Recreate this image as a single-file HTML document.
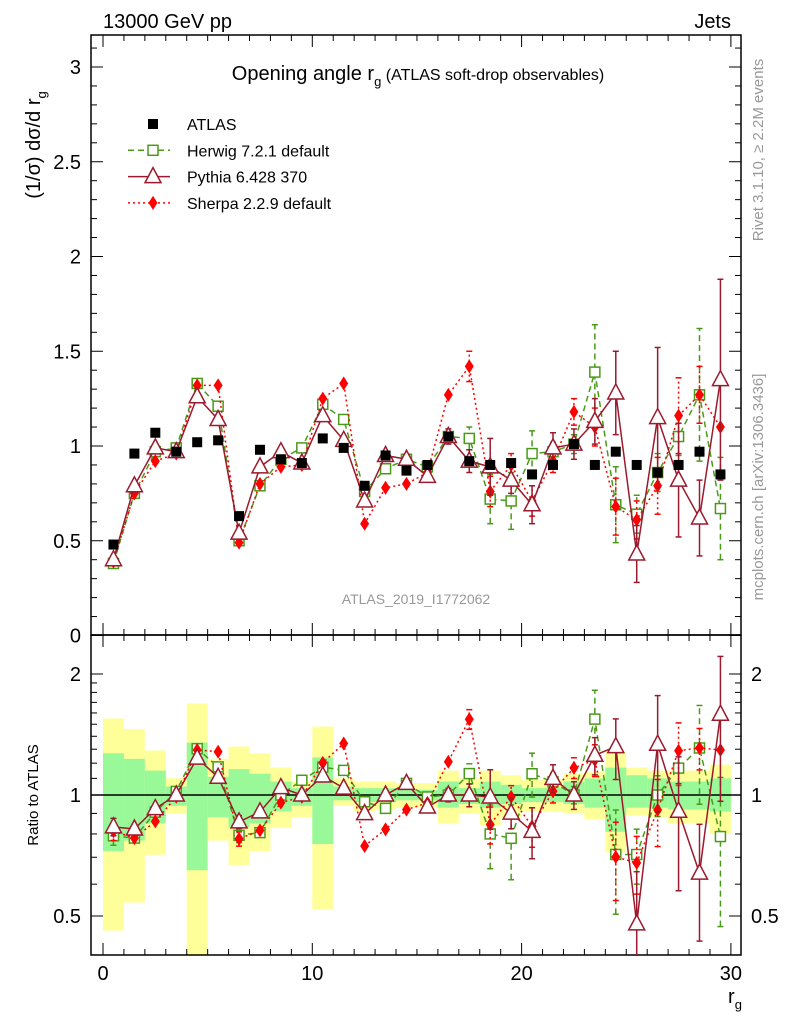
<!DOCTYPE html>
<html><head><meta charset="utf-8"><style>
body{margin:0;background:#fff}
svg{display:block;font-family:"Liberation Sans",sans-serif}
</style></head><body>
<svg id="c" width="786" height="1024" xmlns="http://www.w3.org/2000/svg">
<text x="103" y="28" font-size="20">13000 GeV pp</text>
<text x="731" y="28" font-size="20" text-anchor="end">Jets</text>
<text transform="translate(40,145) rotate(-90)" font-size="20" text-anchor="middle">(1/σ) dσ/d r<tspan font-size="13" dy="6">g</tspan></text>
<text transform="translate(38,795) rotate(-90)" font-size="15" text-anchor="middle">Ratio to ATLAS</text>
<text transform="translate(763,150) rotate(-90)" font-size="15" fill="#999" text-anchor="middle">Rivet 3.1.10, ≥ 2.2M events</text>
<text transform="translate(763,487) rotate(-90)" font-size="15" fill="#999" text-anchor="middle">mcplots.cern.ch [arXiv:1306.3436]</text>
<text x="418" y="80" font-size="20" text-anchor="middle">Opening angle r<tspan font-size="13" dy="6">g</tspan><tspan font-size="16" dy="-6"> (ATLAS soft-drop observables)</tspan></text>
<text x="416" y="604" font-size="14" fill="#999" text-anchor="middle">ATLAS_2019_I1772062</text>
<text x="735" y="1003" font-size="20" text-anchor="middle">r<tspan font-size="13" dy="6">g</tspan></text>
<g id="g"></g>
</svg>
<script>
const bins=[0.5,1.5,2.5,3.5,4.5,5.5,6.5,7.5,8.5,9.5,10.5,11.5,12.5,13.5,14.5,15.5,16.5,17.5,18.5,19.5,20.5,21.5,22.5,23.5,24.5,25.5,26.5,27.5,28.5,29.5];
const atlas=[0.48,0.96,1.07,0.97,1.02,1.03,0.63,0.98,0.93,0.91,1.04,0.99,0.79,0.95,0.87,0.90,1.05,0.92,0.90,0.91,0.85,0.90,1.01,0.90,0.97,0.90,0.86,0.90,0.97,0.85];
const herwig=[0.38,0.75,0.97,0.99,1.33,1.21,0.50,0.79,0.93,0.99,1.22,1.14,0.76,0.88,0.93,0.89,1.05,1.04,0.72,0.71,0.96,0.97,1.01,1.39,0.69,0.64,0.86,1.05,1.27,0.67];
const herwigErr=[0.02,0.02,0.02,0.02,0.02,0.02,0.02,0.02,0.02,0.02,0.02,0.02,0.02,0.02,0.02,0.02,0.03,0.06,0.13,0.15,0.12,0.05,0.05,0.25,0.2,0.1,0.1,0.1,0.35,0.27];
const pythia=[0.40,0.79,0.99,0.97,1.26,1.14,0.54,0.89,0.97,0.91,1.16,1.03,0.71,0.95,0.93,0.84,1.05,0.92,0.89,0.82,0.69,0.99,1.01,1.13,1.28,0.43,1.15,0.82,0.62,1.35];
const pythiaErr=[0.02,0.02,0.02,0.02,0.02,0.02,0.02,0.02,0.02,0.02,0.02,0.02,0.02,0.02,0.02,0.02,0.04,0.06,0.15,0.07,0.1,0.08,0.08,0.12,0.22,0.15,0.37,0.3,0.2,0.53];
const sherpa=[0.39,0.75,0.92,0.96,1.32,1.32,0.49,0.80,0.89,0.90,1.25,1.33,0.59,0.78,0.80,0.86,1.27,1.42,0.76,0.90,0.71,0.92,1.18,1.10,0.68,0.61,0.79,1.16,1.27,1.10];
const sherpaErr=[0.02,0.02,0.02,0.02,0.02,0.02,0.02,0.02,0.02,0.02,0.02,0.02,0.02,0.02,0.02,0.02,0.03,0.08,0.08,0.06,0.08,0.06,0.07,0.1,0.15,0.1,0.15,0.2,0.15,0.02];
const yelHi=[1.55,1.46,1.29,1.10,1.69,1.23,1.32,1.27,1.17,1.08,1.48,1.10,1.08,1.08,1.07,1.07,1.15,1.10,1.15,1.12,1.09,1.09,1.13,1.14,1.28,1.17,1.15,1.15,1.15,1.19];
const yelLo=[0.46,0.54,0.71,0.90,0.30,0.77,0.67,0.725,0.83,0.88,0.52,0.94,0.91,0.92,0.93,0.93,0.85,0.90,0.84,0.88,0.91,0.91,0.90,0.87,0.72,0.89,0.88,0.85,0.85,0.80];
const grnHi=[1.27,1.23,1.15,1.05,1.35,1.11,1.16,1.13,1.08,1.04,1.24,1.05,1.04,1.04,1.03,1.03,1.08,1.04,1.08,1.06,1.04,1.04,1.08,1.10,1.17,1.12,1.10,1.08,1.08,1.10];
const grnLo=[0.725,0.77,0.85,0.94,0.65,0.88,0.83,0.85,0.91,0.94,0.755,0.97,0.96,0.96,0.97,0.97,0.93,0.95,0.93,0.95,0.96,0.96,0.95,0.93,0.81,0.93,0.93,0.92,0.92,0.91];
const mainTicks=["0","0.5","1","1.5","2","2.5","3"];
const xTicks=["0","10","20","30"];

const NS="http://www.w3.org/2000/svg";
const G=document.getElementById('g');
const X=v=>103+v*20.93;
const Y=v=>635.5-v*189.5;
const R=v=>795-121*Math.log2(v);
const RT=635,RB=955;
const clampR=y=>Math.max(RT,Math.min(RB,y));
function el(t,a,p){const e=document.createElementNS(NS,t);for(const k in a)e.setAttribute(k,a[k]);(p||G).appendChild(e);return e;}

// ratio bands
const bandG=el('g',{});


bins.forEach((b,i)=>{
  const y1=clampR(R(yelHi[i])),y2=clampR(R(yelLo[i]));
  const r=el('rect',{x:X(b-0.5),y:y1,width:20.93,height:y2-y1,fill:'#ffff99'},bandG);
  
  
});
bins.forEach((b,i)=>{
  const y1=clampR(R(grnHi[i])),y2=clampR(R(grnLo[i]));
  const r=el('rect',{x:X(b-0.5),y:y1,width:20.93,height:y2-y1,fill:'#99f999'},bandG);
  
  
});
const one=el('line',{x1:91,x2:741,y1:R(1),y2:R(1),stroke:'#000','stroke-width':1.5});



// frames
[[35,635],[635,955]].forEach(([t,b],k)=>{
  const f=el('rect',{x:91,y:t,width:650,height:b-t,fill:'none',stroke:'#000','stroke-width':1.5});
  
  
  for(let v=0;v<=30;v++){
    const L=v%10==0?12:6;
    el('line',{x1:X(v),x2:X(v),y1:b,y2:b-L,stroke:'#000'});
    el('line',{x1:X(v),x2:X(v),y1:t,y2:t+L,stroke:'#000'});
  }
});
// main y ticks
for(let i=0;i<=31;i++){const v=i*0.1;const y=Y(v);if(y<35)break;const L=i%5==0?12:6;
  el('line',{x1:91,x2:91+L,y1:y,y2:y,stroke:'#000'});el('line',{x1:741,x2:741-L,y1:y,y2:y,stroke:'#000'});}
mainTicks.forEach(s=>{const t=el('text',{x:81,y:Y(+s)+7,'font-size':20,'text-anchor':'end'});t.textContent=s;
  
  });
// ratio ticks
[0.4,0.5,0.6,0.7,0.8,0.9,1,1.1,1.2,1.3,1.4,1.5,1.6,1.7,1.8,1.9,2].forEach(v=>{const y=R(v);if(y>RB||y<RT)return;
  const L=(v==0.5||v==1||v==2)?12:6;
  el('line',{x1:91,x2:91+L,y1:y,y2:y,stroke:'#000'});el('line',{x1:741,x2:741-L,y1:y,y2:y,stroke:'#000'});});
["0.5","1","2"].forEach(s=>{[[81,'end'],[751,'start']].forEach(([x,a])=>{
  const t=el('text',{x:x,y:R(+s)+7,'font-size':20,'text-anchor':a});t.textContent=s;
  
  });});
xTicks.forEach(s=>{const t=el('text',{x:X(+s),y:980,'font-size':20,'text-anchor':'middle'});t.textContent=s;
  
  });

// markers
function marker(kind,x,y,g){
  if(kind=='sq')return el('rect',{x:x-5,y:y-5,width:10,height:10,fill:'#fff',stroke:'#4a9a1a','stroke-width':1.5},g);
  if(kind=='tri')return el('polygon',{points:`${x},${y-9} ${x-8},${y+6} ${x+8},${y+6}`,fill:'#fff',stroke:'#9a1a2e','stroke-width':1.5},g);
  if(kind=='dia')return el('polygon',{points:`${x},${y-7} ${x+4.5},${y} ${x},${y+7} ${x-4.5},${y}`,fill:'#f00'},g);
  return el('rect',{x:x-5,y:y-5,width:10,height:10,fill:'#000'},g);
}
const clip=el('clipPath',{id:'cm'});el('rect',{x:91,y:35,width:650,height:600},clip);
const clipR=el('clipPath',{id:'cr'});el('rect',{x:91,y:635,width:650,height:320},clipR);
const series=[
 {name:'herwig',vals:herwig,err:herwigErr,col:'#4a9a1a',dash:'6,4',kind:'sq'},
 {name:'sherpa',vals:sherpa,err:sherpaErr,col:'#f00',dash:'2,3',kind:'dia'},
 {name:'pythia',vals:pythia,err:pythiaErr,col:'#9a1a2e',dash:'',kind:'tri'}];
function drawSeries(s,yf,ratio,cp){
  const g=el('g',{'clip-path':`url(#${cp})`});
  
  
  const val=i=>ratio?s.vals[i]/atlas[i]:s.vals[i];
  const er=i=>ratio?s.err[i]/atlas[i]:s.err[i];
  el('polyline',{points:bins.map((b,i)=>X(b)+','+yf(val(i))).join(' '),fill:'none',stroke:s.col,'stroke-width':1.5,'stroke-dasharray':s.dash},g);
  bins.forEach((b,i)=>{
    const lo=Math.max(val(i)-er(i),0.05),hi=val(i)+er(i);
    el('line',{x1:X(b),x2:X(b),y1:yf(lo),y2:yf(hi),stroke:s.col,'stroke-width':1.5,'stroke-dasharray':s.dash},g);
    if(er(i)>0.03){el('line',{x1:X(b)-3,x2:X(b)+3,y1:yf(lo),y2:yf(lo),stroke:s.col,'stroke-width':1.5},g);
      el('line',{x1:X(b)-3,x2:X(b)+3,y1:yf(hi),y2:yf(hi),stroke:s.col,'stroke-width':1.5},g);}
    const m=marker(s.kind,X(b),yf(val(i)),g);
    
    
  });
}
series.forEach(s=>{drawSeries(s,Y,false,'cm');drawSeries(s,R,true,'cr');});
const ag=el('g',{});


bins.forEach((b,i)=>{const m=marker('blk',X(b),Y(atlas[i]),ag);
  
  });

// legend
const legend=[['ATLAS','blk','#000',''],['Herwig 7.2.1 default','sq','#4a9a1a','6,4'],['Pythia 6.428 370','tri','#9a1a2e',''],['Sherpa 2.2.9 default','dia','#f00','2,3']];
const lg=el('g',{});


legend.forEach(([t,k,c,d],i)=>{
  const y=124+i*26.3;
  const e=el('g',{},lg);
  
  
  if(i>0)el('line',{x1:128,x2:170,y1:y,y2:y,stroke:c,'stroke-width':1.5,'stroke-dasharray':d},e);
  marker(k,153,y,e);
  const tx=el('text',{x:187,y:y+6,'font-size':16},e);tx.textContent=t;
});
</script>
</body></html>
